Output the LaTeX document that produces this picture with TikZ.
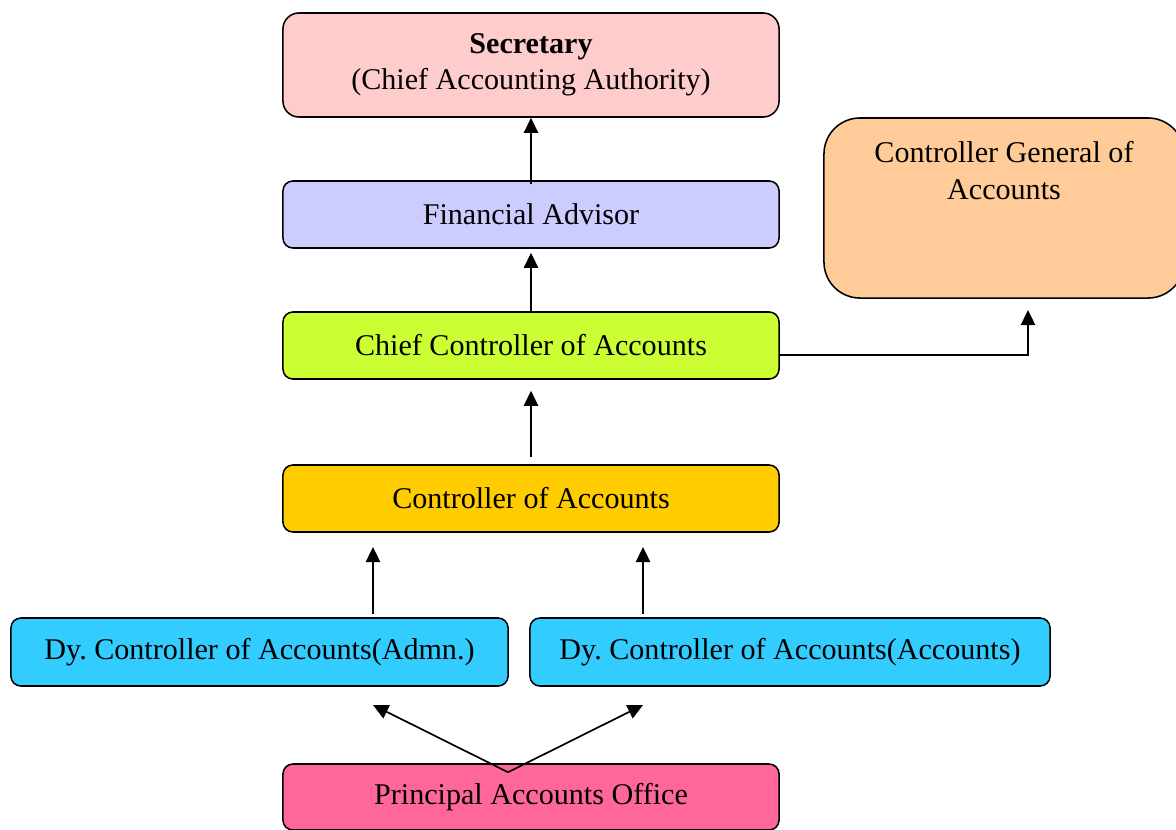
\documentclass[tikz,border=0pt]{standalone}
\usepackage{fontspec}
\setmainfont{Liberation Serif}
\definecolor{org_sec}{RGB}{255, 204, 204}
\definecolor{org_fa}{RGB}{204, 204, 255}
\definecolor{org_ccc}{RGB}{204, 255, 51}
\definecolor{org_cga}{RGB}{255, 204, 153}
\definecolor{org_coa}{RGB}{255, 204, 0}
\definecolor{org_dy}{RGB}{51, 204, 255}
\definecolor{org_pao}{RGB}{255, 102, 153}
\usetikzlibrary{arrows.meta, positioning, calc}

\begin{document}
\begin{tikzpicture}[x=0.025cm, y=-0.025cm,
    box/.style={draw=black, line width=1.1pt, rounded corners=0.25cm,
      minimum width=12.4cm, minimum height=1.675cm, inner sep=0pt,
      align=center, font=\fontsize{21.4}{26}\selectfont},
    arr/.style={-{Triangle[length=0.38cm, width=0.36cm]}, line width=1.2pt}]

        \useasboundingbox (0,0) rectangle (1176,829);

        % --- Top of the chain ---
        \node[box, fill=org_sec, minimum height=2.6cm, rounded corners=0.4cm]
          (sec) at (531,65) {\textbf{Secretary}\\(Chief Accounting Authority)};
        \node[box, fill=org_fa] (fa) at (531,214.5) {Financial Advisor};
        \node[box, fill=org_ccc] (ccc) at (531,345.5) {Chief Controller of Accounts};

        % Controller General (right side)
        \node[box, fill=org_cga, minimum width=9cm, minimum height=4.5cm,
          rounded corners=0.9cm] (cga) at (1004,208) {};
        \node[font=\fontsize{21.4}{26}\selectfont, align=center, inner sep=0pt,
          below=0.6cm of cga.north] (cgatext) {Controller General of\\Accounts};

        % --- Lower levels ---
        \node[box, fill=org_coa] (coa) at (531,498.5) {Controller of Accounts};
        \node[box, fill=org_dy, minimum width=12.425cm, minimum height=1.7cm]
          (dya) at (259.5,652) {Dy.\ Controller of Accounts(Admn.)};
        \node[box, fill=org_dy, minimum width=13cm, minimum height=1.7cm]
          (dyb) at (790,652) {Dy.\ Controller of Accounts(Accounts)};
        \node[box, fill=org_pao, minimum height=1.65cm]
          (pao) at (531,797) {Principal Accounts Office};

        % Arrow ends
        \coordinate (ta) at (373,547);
        \coordinate (tb) at (643,547);
        \coordinate (pa) at (373,705);
        \coordinate (pb) at (643,705);
        \coordinate (tcga) at (1028,310);
        \coordinate (apex) at ([xshift=-0.575cm, yshift=-0.225cm]pao.north);

        % Arrows
        \draw[arr] ([yshift=-0.1cm]fa.north) -- (sec.south);
        \draw[arr, shorten >=0.1cm] (ccc.north) -- (fa.south);
        \draw[arr, shorten <=0.175cm, shorten >=0.275cm] (coa.north) -- (ccc.south);
        \draw[arr] ([yshift=-0.24cm]ccc.east) -| (tcga);
        \draw[arr, shorten <=0.075cm] (dya.north -| ta) -- (ta);
        \draw[arr, shorten <=0.075cm] (dyb.north -| tb) -- (tb);
        \draw[arr] (apex) -- (pa);
        \draw[arr] (apex) -- (pb);
      \end{tikzpicture}
\end{document}
